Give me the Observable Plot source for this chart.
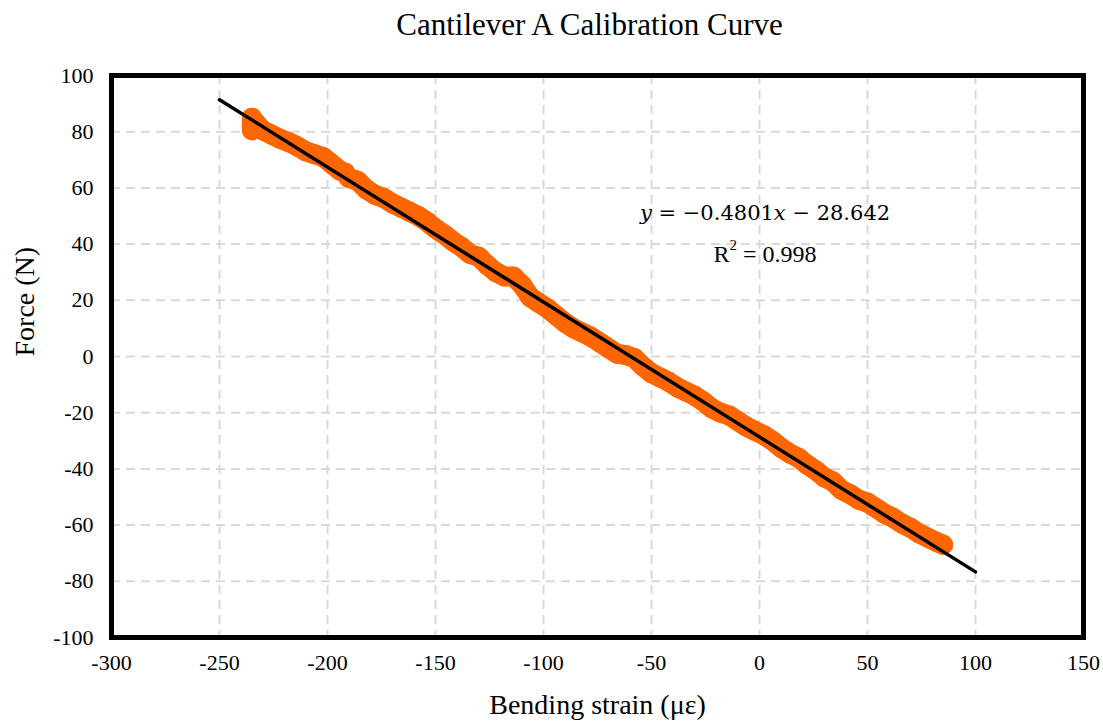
<!DOCTYPE html>
<html>
<head>
<meta charset="utf-8">
<script src="https://cdn.jsdelivr.net/npm/d3@7"></script>
<script src="https://cdn.jsdelivr.net/npm/@observablehq/plot@0.6"></script>
<style>
  html, body { margin: 0; padding: 0; background: #fff; }
  #title { height: 45px; width: 1103px; text-align: center; font-family: "Liberation Serif", "Times New Roman", serif; font-size: 31px; line-height: 50px; color: #000; padding-left: 76px; box-sizing: border-box; }
  svg { display: block; }
</style>
</head>
<body>
<div id="title">Cantilever A Calibration Curve</div>
<div id="chart"></div>
<script>
// Tick values
const xTicks = [-300, -250, -200, -150, -100, -50, 0, 50, 100, 150];
const yTicks = [-100, -80, -60, -40, -20, 0, 20, 40, 60, 80, 100];

const strain = [-235, -235, -233, -230, -226, -222, -218, -214, -210, -206, -202, -198, -194, -192, -190, -186, -182, -178, -174, -170, -166, -162, -158, -154, -150, -146, -142, -138, -134, -130, -126, -122, -118, -114, -110, -106, -102, -98, -94, -90, -86, -82, -78, -74, -70, -66, -62, -58, -54, -50, -46, -42, -38, -34, -30, -26, -22, -18, -14, -10, -6, -2, 2, 6, 10, 14, 18, 22, 26, 30, 34, 38, 42, 46, 50, 54, 58, 62, 66, 70, 74, 78, 82, 85];
const force  = [85, 80.5, 83, 80.5, 79, 77.5, 76.3, 74.8, 73, 72, 71, 68.5, 66, 65.5, 63.5, 62.5, 59.5, 57.5, 56.4, 54.5, 53, 51.5, 50, 48, 45.5, 43.5, 41, 39, 36.5, 35.5, 32.5, 30, 28.5, 28.5, 25.5, 21, 19, 17, 14.5, 12, 10, 8.5, 7, 5, 3, 1, 0.5, -0.5, -3.5, -6, -7.5, -9, -11, -12.5, -14, -16, -18.5, -20, -21, -23, -25, -26.5, -28, -30, -32.5, -34.5, -36, -38.5, -40.5, -43, -44.5, -47.5, -49, -51, -52, -54, -56, -57.5, -59.5, -61, -63, -64.5, -66, -67];

// Linear trendline endpoints
const trendStrain = [-250, 100];
const trendForce = [91.38, -76.65];

const eqText = "−0.4801";
const eqText2 = " − 28.642";
const r2Text = "0.998";

const data = strain.map((x, i) => ({x, y: force[i]}));
const trend = trendStrain.map((x, i) => ({x, y: trendForce[i]}));

const plot = Plot.plot({
  width: 1103,
  height: 676,
  marginTop: 30,
  marginBottom: 84,
  marginLeft: 111,
  marginRight: 20,
  style: {fontFamily: "'Liberation Serif', 'Times New Roman', serif", fontSize: "22px", color: "#000", background: "#fff", overflow: "visible"},
  x: {domain: [-300, 150]},
  y: {domain: [-100, 100]},
  marks: [
    Plot.gridX(xTicks, {stroke: "#d9d9d9", strokeOpacity: 1, strokeWidth: 2, strokeDasharray: "9,6"}),
    Plot.gridY(yTicks, {stroke: "#d9d9d9", strokeOpacity: 1, strokeWidth: 2, strokeDasharray: "9,6"}),
    Plot.line(data, {x: "x", y: "y", stroke: "#ff6600", strokeWidth: 20, strokeLinejoin: "round", strokeLinecap: "round"}),
    Plot.dot(data, {x: "x", y: "y", r: 10, fill: "#ff6600", stroke: null}),
    Plot.line(trend, {x: "x", y: "y", stroke: "#000", strokeWidth: 3.5}),
    Plot.frame({stroke: "#000", strokeWidth: 5}),
    Plot.axisX(xTicks, {tickSize: 0, tickPadding: 17, tickFormat: d => String(d), label: null, fontSize: 22}),
    Plot.axisY(yTicks, {tickSize: 0, tickPadding: 18, tickFormat: d => String(d), label: null, fontSize: 22}),
    Plot.text(["Bending strain (με)"], {frameAnchor: "bottom", dy: 68, fontSize: 28, lineAnchor: "middle"}),
    Plot.text(["Force (N)"], {frameAnchor: "left", dx: -86, rotate: -90, fontSize: 28, lineAnchor: "middle"})
  ]
});
document.getElementById("chart").appendChild(plot);

// Equation and R² annotation
const sx = plot.scale("x"), sy = plot.scale("y");
const svg = d3.select(plot);
const eq = svg.append("text")
  .attr("x", sx.apply(2.8)).attr("y", sy.apply(50.7))
  .attr("text-anchor", "middle").attr("dominant-baseline", "middle")
  .attr("font-family", "'DejaVu Serif', serif").attr("font-size", 21).attr("fill", "#000");
eq.append("tspan").attr("font-style", "italic").text("y");
eq.append("tspan").text(" = " + eqText);
eq.append("tspan").attr("font-style", "italic").text("x");
eq.append("tspan").text(eqText2);

const r2 = svg.append("text")
  .attr("x", sx.apply(2.8)).attr("y", sy.apply(35.7))
  .attr("text-anchor", "middle").attr("dominant-baseline", "middle")
  .attr("font-family", "'Liberation Serif', serif").attr("font-size", 24).attr("fill", "#000");
r2.append("tspan").text("R");
r2.append("tspan").attr("font-size", 15).attr("dy", -9).text("2");
r2.append("tspan").attr("dy", 9).text(" = " + r2Text);
</script>
</body>
</html>
